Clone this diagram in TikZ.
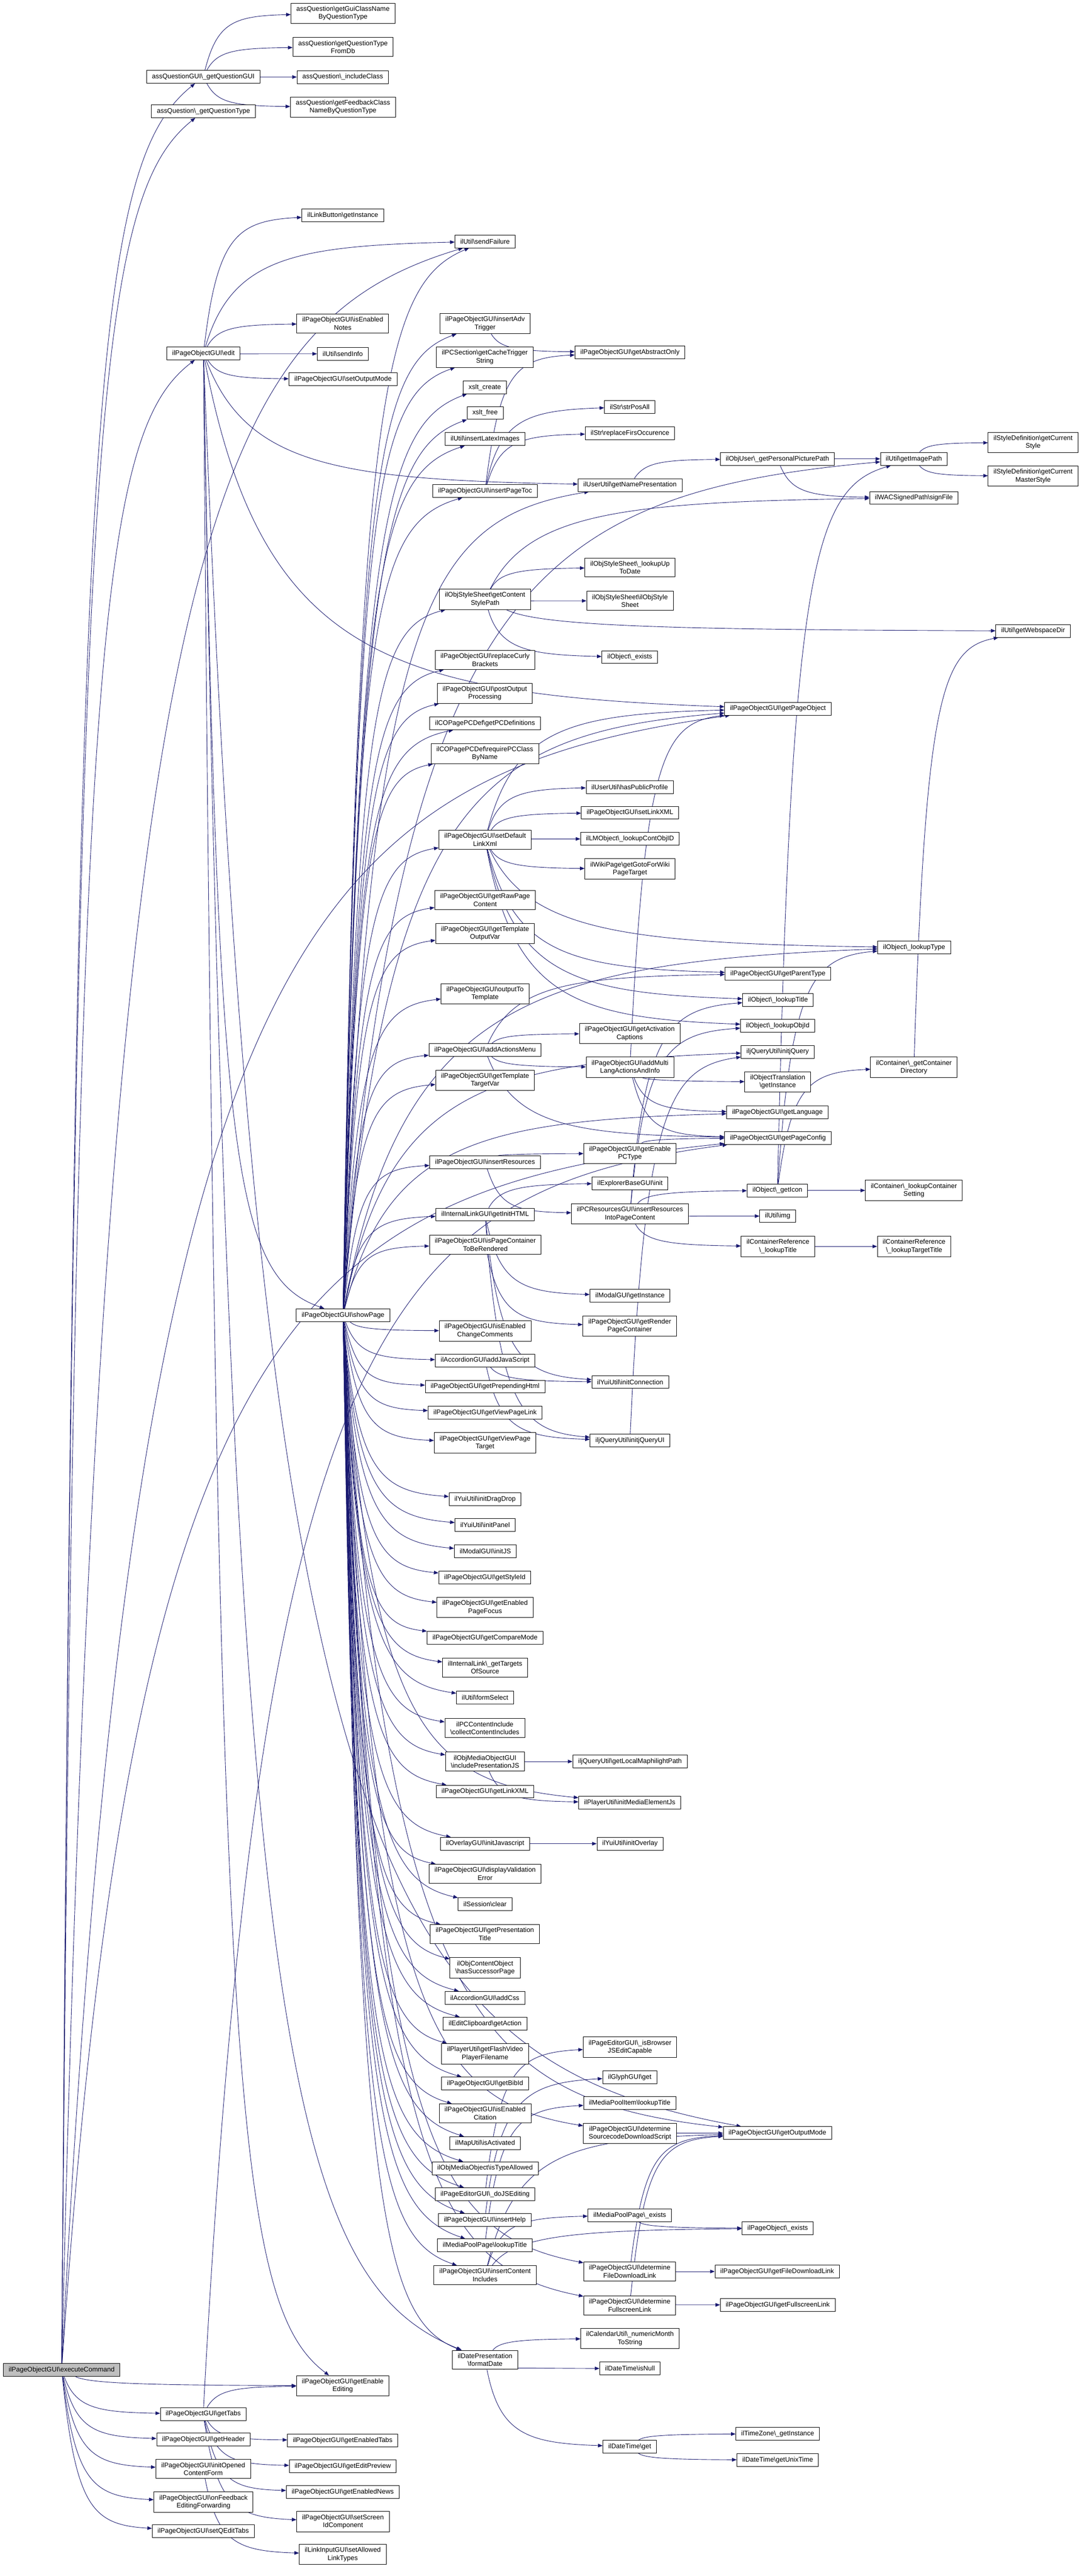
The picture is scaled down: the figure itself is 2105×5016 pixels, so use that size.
\documentclass[tikz,border=0pt]{standalone}
\usepackage{fontspec}
\setmainfont{Liberation Sans}
\usepackage{xcolor}
\usetikzlibrary{calc,arrows.meta,backgrounds}
\definecolor{callblue}{RGB}{25,25,112}
\definecolor{rootgray}{RGB}{191,191,191}
\newcommand{\bsl}{\textbackslash}

\begin{document}
\begin{tikzpicture}[x=1pt,y=-1pt,
  fn/.style={draw=black, fill=white, line width=0.9pt, inner xsep=10.5pt, inner ysep=6pt,
    minimum height=25pt, align=center, font=\fontsize{13}{15.4}\selectfont},
  root/.style={fn, fill=rootgray},
  call/.style={draw=callblue, line width=0.9pt, -{Triangle[length=9pt,width=7pt]},
    to path={.. controls ($0.15*(\tikztostart)+0.75*(\tikztostart |- \tikztotarget)+0.1*(\tikztotarget)$)
      and ($0.4*(\tikztotarget.west)+0.6*(\tikztostart |- \tikztotarget.west)+0.04*(\tikztostart)-0.04*(\tikztotarget)$)
      .. (\tikztotarget)}}]
\useasboundingbox (0,0) rectangle (2105,5016);

% Draw caller
\node[root] (ec) at (120,4615) {ilPageObjectGUI\bsl executeCommand};

% Draw first level
\node[fn] (qgui) at (395.5,149.5) {assQuestionGUI\bsl\_getQuestionGUI};
\node[fn] (qtype) at (396,216.5) {assQuestion\bsl\_getQuestionType};
\node[fn] (edit) at (396,688) {ilPageObjectGUI\bsl edit};
\node[fn] (tabs) at (395.5,4700.5) {ilPageObjectGUI\bsl getTabs};
\node[fn] (header) at (396,4750.5) {ilPageObjectGUI\bsl getHeader};
\node[fn] (iocf) at (395.5,4807.5) {ilPageObjectGUI\bsl initOpened\\ContentForm};
\node[fn] (ofef) at (396,4872) {ilPageObjectGUI\bsl onFeedback\\EditingForwarding};
\node[fn] (sqet) at (395.5,4929) {ilPageObjectGUI\bsl setQEditTabs};

% Draw second level
\node[fn] (gcn) at (667.5,26) {assQuestion\bsl getGuiClassName\\ByQuestionType};
\node[fn] (qtdb) at (667.5,91.5) {assQuestion\bsl getQuestionType\\FromDb};
\node[fn] (incl) at (667,150) {assQuestion\bsl\_includeClass};
\node[fn] (fbcn) at (667.5,208.5) {assQuestion\bsl getFeedbackClass\\NameByQuestionType};
\node[fn] (lbtn) at (667,419) {ilLinkButton\bsl getInstance};
\node[fn] (ien) at (667,630) {ilPageObjectGUI\bsl isEnabled\\Notes};
\node[fn] (sinfo) at (667,689) {ilUtil\bsl sendInfo};
\node[fn] (som) at (667.5,738.5) {ilPageObjectGUI\bsl setOutputMode};
\node[fn] (sp) at (667.5,2561) {ilPageObjectGUI\bsl showPage};
\node[fn] (gee) at (667,4645.5) {ilPageObjectGUI\bsl getEnable\\Editing};
\node[fn] (get) at (667,4752) {ilPageObjectGUI\bsl getEnabledTabs};
\node[fn] (gep) at (667,4802.5) {ilPageObjectGUI\bsl getEditPreview};
\node[fn] (gen) at (667,4852.5) {ilPageObjectGUI\bsl getEnabledNews};
\node[fn] (ssic) at (667.5,4910) {ilPageObjectGUI\bsl setScreen\\IdComponent};
\node[fn] (salt) at (667,4974) {ilLinkInputGUI\bsl setAllowed\\LinkTypes};

% Draw third level
\node[fn] (sfail) at (944,470) {ilUtil\bsl sendFailure};
\node[fn] (iat) at (944,630) {ilPageObjectGUI\bsl insertAdv\\Trigger};
\node[fn] (pcs) at (943.5,695.5) {ilPCSection\bsl getCacheTrigger\\String};
\node[fn] (xc) at (943.5,754) {xslt\_create};
\node[fn] (xf) at (944,804) {xslt\_free};
\node[fn] (ili) at (944,855) {ilUtil\bsl insertLatexImages};
\node[fn] (ipt) at (944,956) {ilPageObjectGUI\bsl insertPageToc};
\node[fn] (csp) at (944,1167) {ilObjStyleSheet\bsl getContent\\StylePath};
\node[fn] (rcb) at (944,1285) {ilPageObjectGUI\bsl replaceCurly\\Brackets};
\node[fn] (poo) at (943.5,1350) {ilPageObjectGUI\bsl postOutput\\Processing};
\node[fn] (pcd) at (944,1408.5) {ilCOPagePCDef\bsl getPCDefinitions};
\node[fn] (rpc) at (943.5,1467.5) {ilCOPagePCDef\bsl requirePCClass\\ByName};
\node[fn] (sdlx) at (944,1635) {ilPageObjectGUI\bsl setDefault\\LinkXml};
\node[fn] (grpc) at (944,1752.5) {ilPageObjectGUI\bsl getRawPage\\Content};
\node[fn] (gtov) at (944,1817.5) {ilPageObjectGUI\bsl getTemplate\\OutputVar};
\node[fn] (ott) at (944,1935) {ilPageObjectGUI\bsl outputTo\\Template};
\node[fn] (aam) at (944,2044.5) {ilPageObjectGUI\bsl addActionsMenu};
\node[fn] (gttv) at (944,2103.5) {ilPageObjectGUI\bsl getTemplate\\TargetVar};
\node[fn] (ires) at (944,2263.5) {ilPageObjectGUI\bsl insertResources};
\node[fn] (ilgi) at (944,2365) {ilInternalLinkGUI\bsl getInitHTML};
\node[fn] (ipcr) at (944.5,2423.5) {ilPageObjectGUI\bsl isPageContainer\\ToBeRendered};
\node[fn] (iecc) at (944,2591.5) {ilPageObjectGUI\bsl isEnabled\\ChangeComments};
\node[fn] (aajs) at (944,2649) {ilAccordionGUI\bsl addJavaScript};
\node[fn] (gph) at (944,2700) {ilPageObjectGUI\bsl getPrependingHtml};
\node[fn] (gvpl) at (944,2750.5) {ilPageObjectGUI\bsl getViewPageLink};
\node[fn] (gvpt) at (944,2809.5) {ilPageObjectGUI\bsl getViewPage\\Target};
\node[fn] (idd) at (944,2919) {ilYuiUtil\bsl initDragDrop};
\node[fn] (ipan) at (944,2969.5) {ilYuiUtil\bsl initPanel};
\node[fn] (mijs) at (944.5,3020.5) {ilModalGUI\bsl initJS};
\node[fn] (gsid) at (943.5,3071.5) {ilPageObjectGUI\bsl getStyleId};
\node[fn] (gepf) at (944,3130) {ilPageObjectGUI\bsl getEnabled\\PageFocus};
\node[fn] (gcm) at (944,3189) {ilPageObjectGUI\bsl getCompareMode};
\node[fn] (gtos) at (944,3247) {ilInternalLink\bsl\_getTargets\\OfSource};
\node[fn] (fsel) at (944,3305.5) {ilUtil\bsl formSelect};
\node[fn] (cci) at (943.5,3365) {ilPCContentInclude\\\bsl{}collectContentIncludes};
\node[fn] (ipjs) at (944,3430) {ilObjMediaObjectGUI\\\bsl{}includePresentationJS};
\node[fn] (glx) at (944,3488.5) {ilPageObjectGUI\bsl getLinkXML};
\node[fn] (oij) at (944,3590) {ilOverlayGUI\bsl initJavascript};
\node[fn] (dve) at (944,3648.5) {ilPageObjectGUI\bsl displayValidation\\Error};
\node[fn] (sclr) at (944,3707.5) {ilSession\bsl clear};
\node[fn] (gpt) at (943.5,3766) {ilPageObjectGUI\bsl getPresentation\\Title};
\node[fn] (hsp) at (944,3831.5) {ilObjContentObject\\\bsl{}hasSuccessorPage};
\node[fn] (acss) at (943.5,3890) {ilAccordionGUI\bsl addCss};
\node[fn] (gact) at (944,3940.5) {ilEditClipboard\bsl getAction};
\node[fn] (gfvp) at (944,3999) {ilPlayerUtil\bsl getFlashVideo\\PlayerFilename};
\node[fn] (gbib) at (944,4057) {ilPageObjectGUI\bsl getBibId};
\node[fn] (iec) at (944,4115) {ilPageObjectGUI\bsl isEnabled\\Citation};
\node[fn] (mua) at (944,4173) {ilMapUtil\bsl isActivated};
\node[fn] (ita) at (944,4222) {ilObjMediaObject\bsl isTypeAllowed};
\node[fn] (djse) at (944,4272.5) {ilPageEditorGUI\bsl\_doJSEditing};
\node[fn] (ihelp) at (943.5,4322.5) {ilPageObjectGUI\bsl insertHelp};
\node[fn] (mplt) at (943.5,4372) {ilMediaPoolPage\bsl lookupTitle};
\node[fn] (ici) at (944,4430) {ilPageObjectGUI\bsl insertContent\\Includes};
\node[fn] (fdate) at (944,4595) {ilDatePresentation\\\bsl{}formatDate};

% Draw fourth level
\node[fn] (gao) at (1226,686) {ilPageObjectGUI\bsl getAbstractOnly};
\node[fn] (spa) at (1225.5,792.5) {ilStr\bsl strPosAll};
\node[fn] (rfo) at (1226,843.5) {ilStr\bsl replaceFirsOccurence};
\node[fn] (gnp) at (1226,944.5) {ilUserUtil\bsl getNamePresentation};
\node[fn] (lutd) at (1226,1105) {ilObjStyleSheet\bsl\_lookupUp\\ToDate};
\node[fn] (oss) at (1226,1170) {ilObjStyleSheet\bsl ilObjStyle\\Sheet};
\node[fn] (oex) at (1225.5,1279.5) {ilObject\bsl\_exists};
\node[fn] (hpp) at (1225.5,1532.5) {ilUserUtil\bsl hasPublicProfile};
\node[fn] (slx) at (1226,1582.5) {ilPageObjectGUI\bsl setLinkXML};
\node[fn] (lcoi) at (1226,1633.5) {ilLMObject\bsl\_lookupContObjID};
\node[fn] (wpt) at (1226,1692) {ilWikiPage\bsl getGotoForWiki\\PageTarget};
\node[fn] (gac) at (1225.5,2012.5) {ilPageObjectGUI\bsl getActivation\\Captions};
\node[fn] (amla) at (1226,2078) {ilPageObjectGUI\bsl addMulti\\LangActionsAndInfo};
\node[fn] (gepc) at (1226,2246) {ilPageObjectGUI\bsl getEnable\\PCType};
\node[fn] (ebi) at (1226,2304) {ilExplorerBaseGUI\bsl init};
\node[fn] (irpc) at (1226,2363.5) {ilPCResourcesGUI\bsl insertResources\\IntoPageContent};
\node[fn] (mgi) at (1226,2523) {ilModalGUI\bsl getInstance};
\node[fn] (grpcn) at (1225.5,2582) {ilPageObjectGUI\bsl getRender\\PageContainer};
\node[fn] (yic) at (1226.5,2691) {ilYuiUtil\bsl initConnection};
\node[fn] (ijqui) at (1226,2805) {iljQueryUtil\bsl initjQueryUI};
\node[fn] (lmp) at (1226,3430) {iljQueryUtil\bsl getLocalMaphilightPath};
\node[fn] (imej) at (1225.5,3510) {ilPlayerUtil\bsl initMediaElementJs};
\node[fn] (yio) at (1226,3590) {ilYuiUtil\bsl initOverlay};
\node[fn] (ibjs) at (1226,3986) {ilPageEditorGUI\bsl\_isBrowser\\JSEditCapable};
\node[fn] (glyph) at (1225.5,4044.5) {ilGlyphGUI\bsl get};
\node[fn] (mpilt) at (1225.5,4095) {ilMediaPoolItem\bsl lookupTitle};
\node[fn] (dsds) at (1226,4154) {ilPageObjectGUI\bsl determine\\SourcecodeDownloadScript};
\node[fn] (mpex) at (1225.5,4313.5) {ilMediaPoolPage\bsl\_exists};
\node[fn] (dfdl) at (1225.5,4423) {ilPageObjectGUI\bsl determine\\FileDownloadLink};
\node[fn] (dfsl) at (1225.5,4489) {ilPageObjectGUI\bsl determine\\FullscreenLink};
\node[fn] (nmts) at (1226,4553.5) {ilCalendarUtil\bsl\_numericMonth\\ToString};
\node[fn] (dtnull) at (1226,4612) {ilDateTime\bsl isNull};
\node[fn] (dtget) at (1225.5,4764) {ilDateTime\bsl get};

% Draw fifth level
\node[fn] (gppp) at (1513,893.5) {ilObjUser\bsl\_getPersonalPicturePath};
\node[fn] (gpo) at (1514,1380) {ilPageObjectGUI\bsl getPageObject};
\node[fn] (gpt2) at (1514,1896) {ilPageObjectGUI\bsl getParentType};
\node[fn] (olt) at (1514,1947) {ilObject\bsl\_lookupTitle};
\node[fn] (loi) at (1513.5,1997) {ilObject\bsl\_lookupObjId};
\node[fn] (ijq) at (1513.5,2048) {iljQueryUtil\bsl initjQuery};
\node[fn] (otgi) at (1513.5,2106.5) {ilObjectTranslation\\\bsl{}getInstance};
\node[fn] (glang) at (1513,2166) {ilPageObjectGUI\bsl getLanguage};
\node[fn] (gpc) at (1514,2216) {ilPageObjectGUI\bsl getPageConfig};
\node[fn] (gicon) at (1513,2318) {ilObject\bsl\_getIcon};
\node[fn] (img) at (1513.5,2368) {ilUtil\bsl img};
\node[fn] (crlt) at (1514,2427) {ilContainerReference\\\bsl\_lookupTitle};
\node[fn] (gom) at (1513,4153.5) {ilPageObjectGUI\bsl getOutputMode};
\node[fn] (poex) at (1513.5,4339) {ilPageObject\bsl\_exists};
\node[fn] (gfdl) at (1512.5,4423) {ilPageObjectGUI\bsl getFileDownloadLink};
\node[fn] (gfsl) at (1513.5,4488) {ilPageObjectGUI\bsl getFullscreenLink};
\node[fn] (tzgi) at (1513.5,4739) {ilTimeZone\bsl\_getInstance};
\node[fn] (gut) at (1513.5,4790) {ilDateTime\bsl getUnixTime};

% Draw sixth and seventh level
\node[fn] (gip) at (1778.5,893.5) {ilUtil\bsl getImagePath};
\node[fn] (sf) at (1778.5,969.5) {ilWACSignedPath\bsl signFile};
\node[fn] (lt) at (1779,1845) {ilObject\bsl\_lookupType};
\node[fn] (gcd) at (1778.5,2078) {ilContainer\bsl\_getContainer\\Directory};
\node[fn] (lcs) at (1778.5,2318) {ilContainer\bsl\_lookupContainer\\Setting};
\node[fn] (crltt) at (1779,2427) {ilContainerReference\\\bsl\_lookupTargetTitle};
\node[fn] (gcs) at (2010.5,861.5) {ilStyleDefinition\bsl getCurrent\\Style};
\node[fn] (gcms) at (2010.5,927) {ilStyleDefinition\bsl getCurrent\\MasterStyle};
\node[fn] (gwd) at (2010.5,1228.5) {ilUtil\bsl getWebspaceDir};

\begin{scope}[on background layer]
\fill[white] (0,0) rectangle (2105,5016);

% Draw calls of executeCommand
\draw[call] (ec) to (qgui);
\draw[call] (ec) to (qtype);
\draw[call] (ec) to (edit);
\draw[call] (ec) to (gpo);
\draw[call] (ec) to (sfail);
\draw[call] (ec) to (gee);
\draw[call] (ec) to (tabs);
\draw[call] (ec) to (header);
\draw[call] (ec) to (iocf);
\draw[call] (ec) to (ofef);
\draw[call] (ec) to (sqet);
\draw[call] (ec) to (gpc);

% Draw calls of the first level
\draw[call] (qgui) to (gcn);
\draw[call] (qgui) to (qtdb);
\draw[call] (qgui) to (incl);
\draw[call] (qgui) to (fbcn);
\draw[call] (edit) to (lbtn);
\draw[call] (edit) to (sfail);
\draw[call] (edit) to (ien);
\draw[call] (edit) to (sinfo);
\draw[call] (edit) to (som);
\draw[call] (edit) to (sp);
\draw[call] (edit) to (gee);
\draw[call] (edit) to (gnp);
\draw[call] (edit) to (gpo);
\draw[call] (edit) to (gom);
\draw[call] (edit) to (fdate);
\draw[call] (tabs) to (gee);
\draw[call] (tabs) to (get);
\draw[call] (tabs) to (gep);
\draw[call] (tabs) to (gen);
\draw[call] (tabs) to (ssic);
\draw[call] (tabs) to (gpc);
\draw[call] (iocf) to (salt);

% Draw calls of showPage
\draw[call] (sp) to (sfail);
\draw[call] (sp) to (iat);
\draw[call] (sp) to (pcs);
\draw[call] (sp) to (xc);
\draw[call] (sp) to (xf);
\draw[call] (sp) to (ili);
\draw[call] (sp) to (ipt);
\draw[call] (sp) to (csp);
\draw[call] (sp) to (rcb);
\draw[call] (sp) to (poo);
\draw[call] (sp) to (pcd);
\draw[call] (sp) to (rpc);
\draw[call] (sp) to (sdlx);
\draw[call] (sp) to (grpc);
\draw[call] (sp) to (gtov);
\draw[call] (sp) to (ott);
\draw[call] (sp) to (aam);
\draw[call] (sp) to (gttv);
\draw[call] (sp) to (ires);
\draw[call] (sp) to (ilgi);
\draw[call] (sp) to (ipcr);
\draw[call] (sp) to (iecc);
\draw[call] (sp) to (aajs);
\draw[call] (sp) to (gph);
\draw[call] (sp) to (gvpl);
\draw[call] (sp) to (gvpt);
\draw[call] (sp) to (idd);
\draw[call] (sp) to (ipan);
\draw[call] (sp) to (mijs);
\draw[call] (sp) to (gsid);
\draw[call] (sp) to (gepf);
\draw[call] (sp) to (gcm);
\draw[call] (sp) to (gtos);
\draw[call] (sp) to (fsel);
\draw[call] (sp) to (cci);
\draw[call] (sp) to (ipjs);
\draw[call] (sp) to (glx);
\draw[call] (sp) to (oij);
\draw[call] (sp) to (dve);
\draw[call] (sp) to (sclr);
\draw[call] (sp) to (gpt);
\draw[call] (sp) to (hsp);
\draw[call] (sp) to (acss);
\draw[call] (sp) to (gact);
\draw[call] (sp) to (gfvp);
\draw[call] (sp) to (gbib);
\draw[call] (sp) to (iec);
\draw[call] (sp) to (mua);
\draw[call] (sp) to (ita);
\draw[call] (sp) to (djse);
\draw[call] (sp) to (ihelp);
\draw[call] (sp) to (mplt);
\draw[call] (sp) to (ici);
\draw[call] (sp) to (fdate);
\draw[call] (sp) to (gnp);
\draw[call] (sp) to (gpo);
\draw[call] (sp) to (gip);
\draw[call] (sp) to (lt);
\draw[call] (sp) to (glang);
\draw[call] (sp) to (ijq);
\draw[call] (sp) to (gom);
\draw[call] (sp) to (dsds);
\draw[call] (sp) to (dfdl);
\draw[call] (sp) to (dfsl);
\draw[call] (sp) to (imej);

% Draw calls of the third level
\draw[call] (iat) to (gao);
\draw[call] (ipt) to (gao);
\draw[call] (ipt) to (spa);
\draw[call] (ipt) to (rfo);
\draw[call] (csp) to (lutd);
\draw[call] (csp) to (oss);
\draw[call] (csp) to (oex);
\draw[call] (csp) to (sf);
\draw[call] (csp) to (gwd);
\draw[call] (sdlx) to (hpp);
\draw[call] (sdlx) to (slx);
\draw[call] (sdlx) to (lcoi);
\draw[call] (sdlx) to (wpt);
\draw[call] (sdlx) to (gpo);
\draw[call] (sdlx) to (gpt2);
\draw[call] (sdlx) to (olt);
\draw[call] (sdlx) to (loi);
\draw[call] (sdlx) to (lt);
\draw[call] (aam) to (gac);
\draw[call] (aam) to (amla);
\draw[call] (aam) to (gpt2);
\draw[call] (aam) to (gpc);
\draw[call] (ires) to (gepc);
\draw[call] (ires) to (irpc);
\draw[call] (ilgi) to (ebi);
\draw[call] (ilgi) to (mgi);
\draw[call] (ilgi) to (yic);
\draw[call] (ilgi) to (ijqui);
\draw[call] (ipcr) to (grpcn);
\draw[call] (aajs) to (yic);
\draw[call] (aajs) to (ijqui);
\draw[call] (ipjs) to (lmp);
\draw[call] (ipjs) to (imej);
\draw[call] (oij) to (yio);
\draw[call] (djse) to (ibjs);
\draw[call] (ihelp) to (glyph);
\draw[call] (mplt) to (mpilt);
\draw[call] (ici) to (mpex);
\draw[call] (ici) to (poex);
\draw[call] (ici) to (gom);
\draw[call] (fdate) to (nmts);
\draw[call] (fdate) to (dtnull);
\draw[call] (fdate) to (dtget);

% Draw calls of the fourth level and beyond
\draw[call] (gnp) to (gppp);
\draw[call] (amla) to (gpo);
\draw[call] (amla) to (glang);
\draw[call] (amla) to (gpc);
\draw[call] (amla) to (otgi);
\draw[call] (gepc) to (gpc);
\draw[call] (irpc) to (gicon);
\draw[call] (irpc) to (img);
\draw[call] (irpc) to (crlt);
\draw[call] (irpc) to (olt);
\draw[call] (irpc) to (loi);
\draw[call] (ijqui) to (ijq);
\draw[call] (dsds) to (gom);
\draw[call] (dfdl) to (gom);
\draw[call] (dfdl) to (gfdl);
\draw[call] (dfsl) to (gom);
\draw[call] (dfsl) to (gfsl);
\draw[call] (mpex) to (poex);
\draw[call] (dtget) to (tzgi);
\draw[call] (dtget) to (gut);
\draw[call] (gppp) to (gip);
\draw[call] (gppp) to (sf);
\draw[call] (gicon) to (gip);
\draw[call] (gicon) to (lt);
\draw[call] (gicon) to (gcd);
\draw[call] (gicon) to (lcs);
\draw[call] (crlt) to (crltt);
\draw[call] (gip) to (gcs);
\draw[call] (gip) to (gcms);
\draw[call] (gcd) to (gwd);
\end{scope}
\end{tikzpicture}
\end{document}
